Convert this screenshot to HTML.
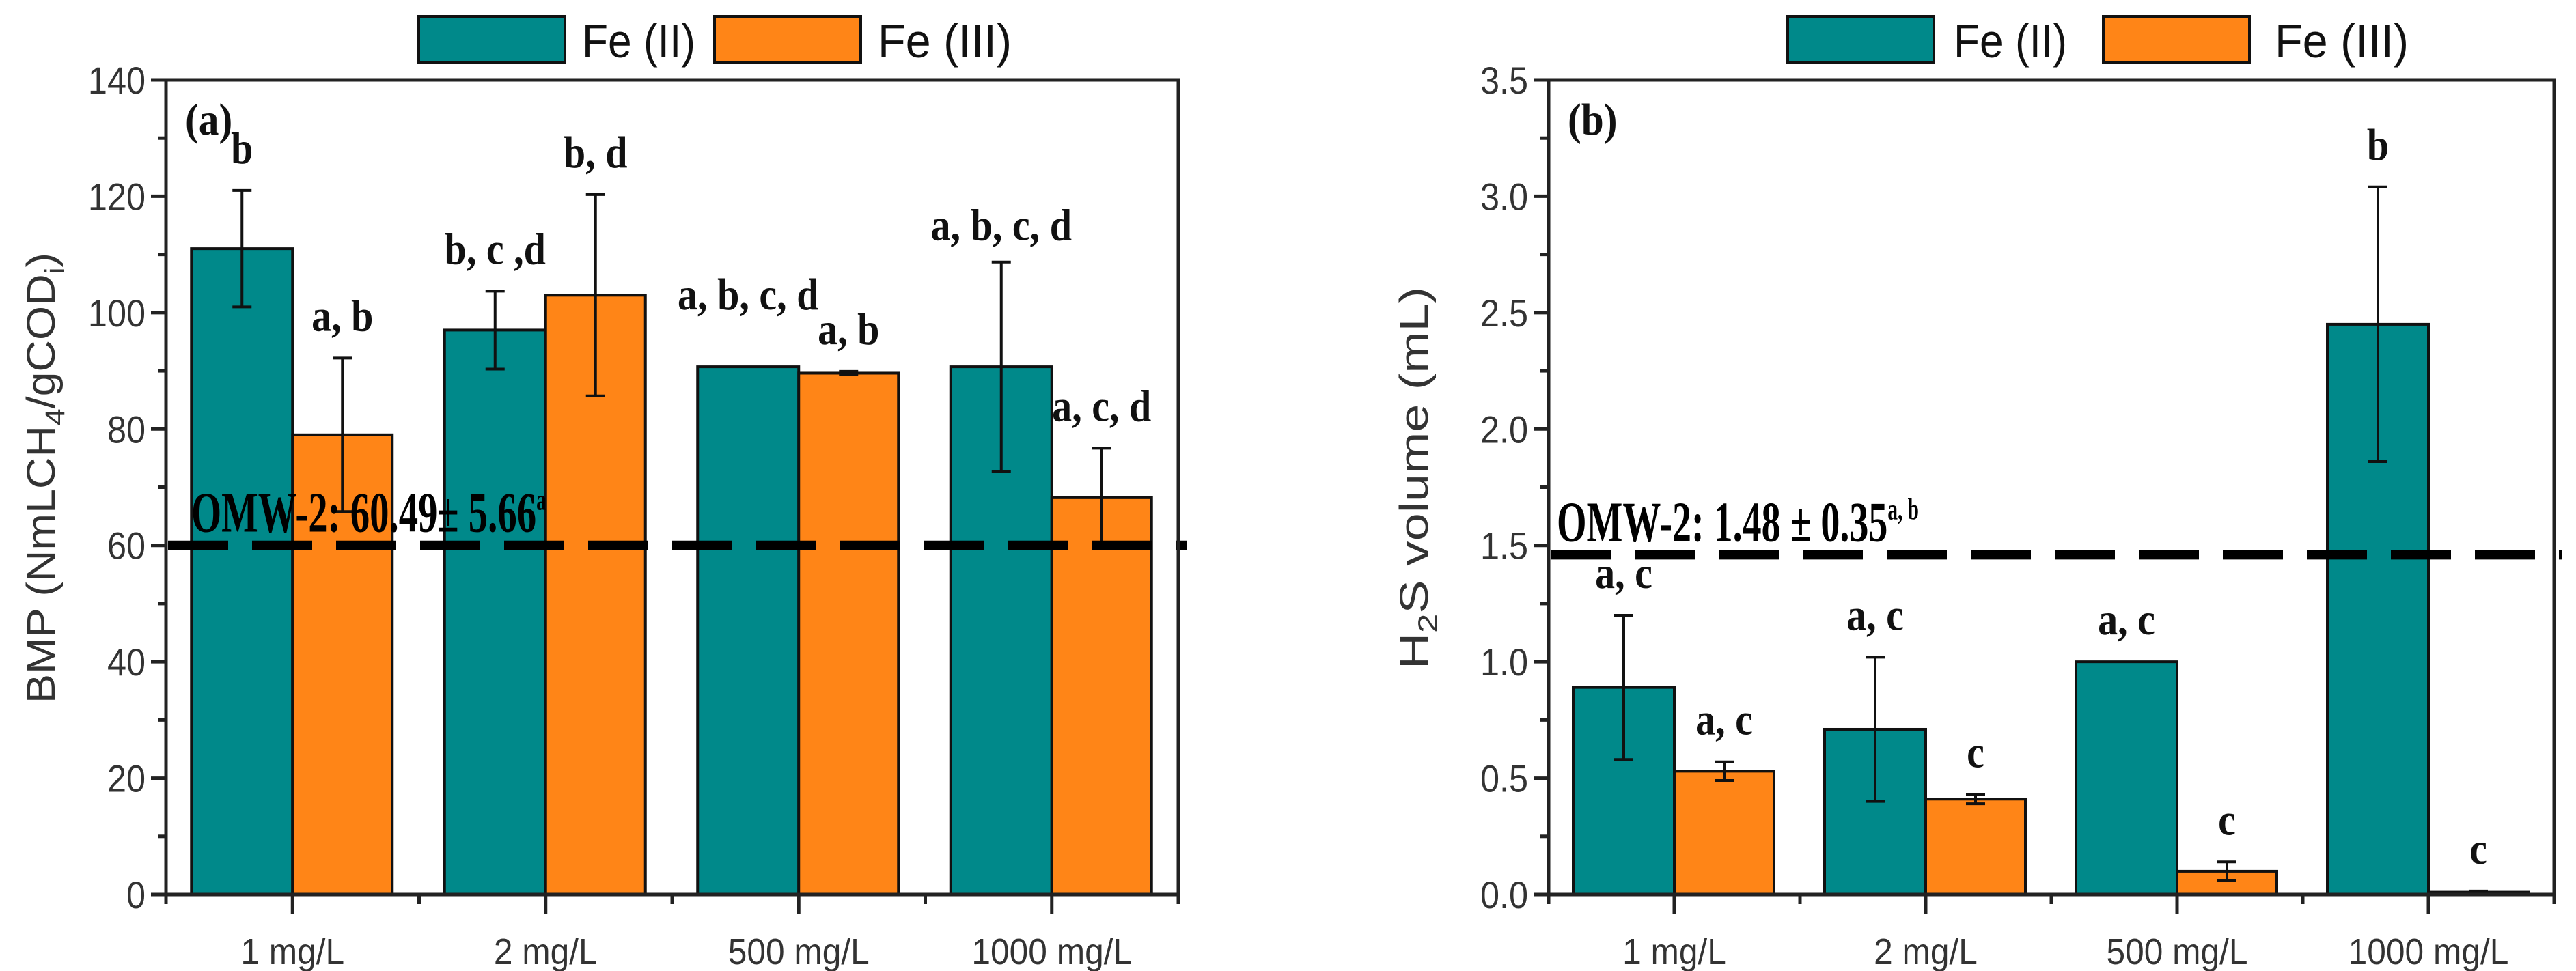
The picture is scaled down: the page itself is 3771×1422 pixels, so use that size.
<!DOCTYPE html>
<html><head><meta charset="utf-8"><style>
html,body{margin:0;padding:0;background:#fff;}
svg{display:block;}
</style></head><body>
<svg id="fig" xmlns="http://www.w3.org/2000/svg" width="3771" height="1422" viewBox="0 0 3771 1422"></svg>
<script>
// ---- Panel (a) data ----
const catsA = ["1 mg/L","2 mg/L","500 mg/L","1000 mg/L"];
const fe2A = [111, 97, 90.7, 90.7];
const fe2ErrA = [10, 6.7, 0, 18];
const fe3A = [79, 103, 89.6, 68.2];
const fe3ErrA = [13.2, 17.3, 0.3, 8.5];
const fe2LabA = ["b","b, c ,d","a, b, c, d","a, b, c, d"];
const fe3LabA = ["a, b","b, d","a, b","a, c, d"];
const ticksA = [0,20,40,60,80,100,120,140];
const refA = 60;
// ---- Panel (b) data ----
const catsB = ["1 mg/L","2 mg/L","500 mg/L","1000 mg/L"];
const fe2B = [0.89, 0.71, 1.0, 2.45];
const fe2ErrB = [0.31, 0.31, 0, 0.59];
const fe3B = [0.53, 0.41, 0.10, 0.01];
const fe3ErrB = [0.04, 0.02, 0.04, 0.005];
const fe2LabB = ["a, c","a, c","a, c","b"];
const fe3LabB = ["a, c","c","c","c"];
const ticksB = ["0.0","0.5","1.0","1.5","2.0","2.5","3.0","3.5"];
const refB = 1.46;

const NS="http://www.w3.org/2000/svg";
const svg=document.getElementById('fig');
const TEAL="#00898a", ORANGE="#ff8517";
function mk(tag,attrs,parent){const e=document.createElementNS(NS,tag);for(const k in attrs)e.setAttribute(k,attrs[k]);(parent||svg).appendChild(e);return e;}
function txt(str,x,y,o,parent){
  const t=mk('text',{x:0,y:0,'font-family':o.family||'"Liberation Sans", sans-serif','font-size':o.size,'fill':o.fill||'#333','font-weight':o.weight||'normal','text-anchor':o.anchor||'start',transform:`translate(${x},${y})${o.rot?' rotate('+o.rot+')':''} scale(${o.sx||1},1)`},parent);
  if(o.len){t.setAttribute('textLength',o.len);t.setAttribute('lengthAdjust','spacingAndGlyphs');}
  t.textContent=str;return t;}

function panel(P){
  const g=mk('g',{});
  
  
  const L=P.left,R=P.right,T=117,B=1310;
  const ymax=P.ymax;
  const Y=v=>B-(v/ymax)*(B-T);
  const n=P.cats.length, step=(R-L)/n;
  const X=i=>L+step*(i+0.5);
  for(let i=0;i<n;i++){
    const c=X(i);
    const b1=mk('rect',{x:c-148,y:Y(P.fe2[i]),width:148,height:B-Y(P.fe2[i]),fill:TEAL,stroke:'#111','stroke-width':4},g);
    
    
    const b2=mk('rect',{x:c,y:Y(P.fe3[i]),width:146,height:B-Y(P.fe3[i]),fill:ORANGE,stroke:'#111','stroke-width':4},g);
    
    
    [[c-74,P.fe2[i],P.e2[i]],[c+73,P.fe3[i],P.e3[i]]].forEach(([x,v,e])=>{
      if(e>0){
        const eb=mk('path',{d:`M${x},${Y(v+e)}V${Y(v-e)}M${x-14},${Y(v+e)}H${x+14}M${x-14},${Y(v-e)}H${x+14}`,stroke:'#111','stroke-width':4,fill:'none'},g);
        
        
      }
    });
    const t1=txt(P.lab2[i],c-74,Y(P.fe2[i]+P.e2[i])-(P.lift2[i]||40),{family:'"Liberation Serif", serif',weight:'bold',size:66,fill:'#111',anchor:'middle',sx:0.88},g);
    
    
    const t2=txt(P.lab3[i],c+73,Y(P.fe3[i]+P.e3[i])-40,{family:'"Liberation Serif", serif',weight:'bold',size:66,fill:'#111',anchor:'middle',sx:0.88},g);
    
    
  }
  const rl=mk('line',{x1:L+3,x2:R+12,y1:Y(P.ref),y2:Y(P.ref),stroke:'#000','stroke-width':14,'stroke-dasharray':'88 35'},g);
  
  
  const rt=mk('text',{x:0,y:0,'font-family':'"Liberation Serif", serif','font-weight':'bold','font-size':84,fill:'#000',transform:`translate(${P.refX},${Y(P.ref)-20})`},g);
  
  
  rt.setAttribute('textLength',P.refLen);rt.setAttribute('lengthAdjust','spacingAndGlyphs');
  rt.textContent=P.refText;
  const sup=mk('tspan',{'font-size':44,dy:-32},rt);sup.textContent=P.refSup;
  const fr=mk('rect',{x:L,y:T,width:R-L,height:B-T,fill:'none',stroke:'#222','stroke-width':5},g);
  
  
  for(let k=0;k<P.ticks.length;k++){
    const v=k*ymax/(P.ticks.length-1);
    mk('line',{x1:L-22,x2:L,y1:Y(v),y2:Y(v),stroke:'#222','stroke-width':5},g);
    if(k<P.ticks.length-1){const vm=v+ymax/(P.ticks.length-1)/2;mk('line',{x1:L-12,x2:L,y1:Y(vm),y2:Y(vm),stroke:'#222','stroke-width':5},g);}
    const tl=txt(String(P.ticks[k]),L-30,Y(v)+20,{size:56,anchor:'end',sx:0.9},g);
    
    
  }
  for(let i=0;i<=n;i++){
    const xb=L+step*i;mk('line',{x1:xb,x2:xb,y1:B,y2:B+14,stroke:'#222','stroke-width':5},g);
  }
  for(let i=0;i<n;i++){
    mk('line',{x1:X(i),x2:X(i),y1:B,y2:B+28,stroke:'#222','stroke-width':5},g);
    const xl=txt(P.cats[i],X(i),B+102,{size:54,anchor:'middle',sx:0.92},g);
    
    
  }
  const pl=txt(P.letter,L+28,T+80,{family:'"Liberation Serif", serif',weight:'bold',size:66,fill:'#111',sx:0.9},g);
  
  
  const yt=mk('text',{x:0,y:0,'font-family':'"Liberation Sans", sans-serif','font-size':58,fill:'#333','text-anchor':'middle',transform:`translate(${P.titleX},${P.titleY}) rotate(-90)`},g);
  
  
  yt.setAttribute('textLength',P.titleLen);yt.setAttribute('lengthAdjust','spacingAndGlyphs');
  P.title.forEach(([s,dy])=>{const a={'font-size':dy>0?40:58};if(dy)a.dy=dy;const ts=mk('tspan',a,yt);ts.textContent=s;});
  const lg=mk('g',{},g);
  
  
  [[P.leg[0],TEAL,'Fe (II)',P.leg[1]],[P.leg[2],ORANGE,'Fe (III)',P.leg[3]]].forEach(([bx,col,lab,tx],j)=>{
    const e=mk('g',{},lg);
    
    
    mk('rect',{x:bx,y:24,width:214,height:68,fill:col,stroke:'#111','stroke-width':4},e);
    txt(lab,tx,84,{size:70,fill:'#111',len:j?196:166},e);
  });
}

panel({name:'panel-a-bmp',left:243,right:1725,ymax:140,cats:catsA,fe2:fe2A,e2:fe2ErrA,fe3:fe3A,e3:fe3ErrA,
  lab2:fe2LabA,lab3:fe3LabA,lift2:[40,40,84,32],ticks:ticksA,ref:refA,refX:280,refLen:520,refText:'OMW-2: 60.49± 5.66',refSup:'a',
  letter:'(a)',titleX:80,titleY:700,titleLen:660,title:[['BMP (NmLCH',0],['4',14],['/gCOD',-14],['i',14],[')',-14]],
  leg:[613,852,1046,1285]});
panel({name:'panel-b-h2s',left:2267,right:3739,ymax:3.5,cats:catsB,fe2:fe2B,e2:fe2ErrB,fe3:fe3B,e3:fe3ErrB,
  lab2:fe2LabB,lab3:fe3LabB,lift2:[40,40,40,40],ticks:ticksB,ref:refB,refX:2279,refLen:530,refText:'OMW-2: 1.48 ± 0.35',refSup:'a, b',
  letter:'(b)',titleX:2090,titleY:700,titleLen:560,title:[['H',0],['2',14],['S volume (mL)',-14]],
  leg:[2617,2860,3079,3330]});
</script>
</body></html>
